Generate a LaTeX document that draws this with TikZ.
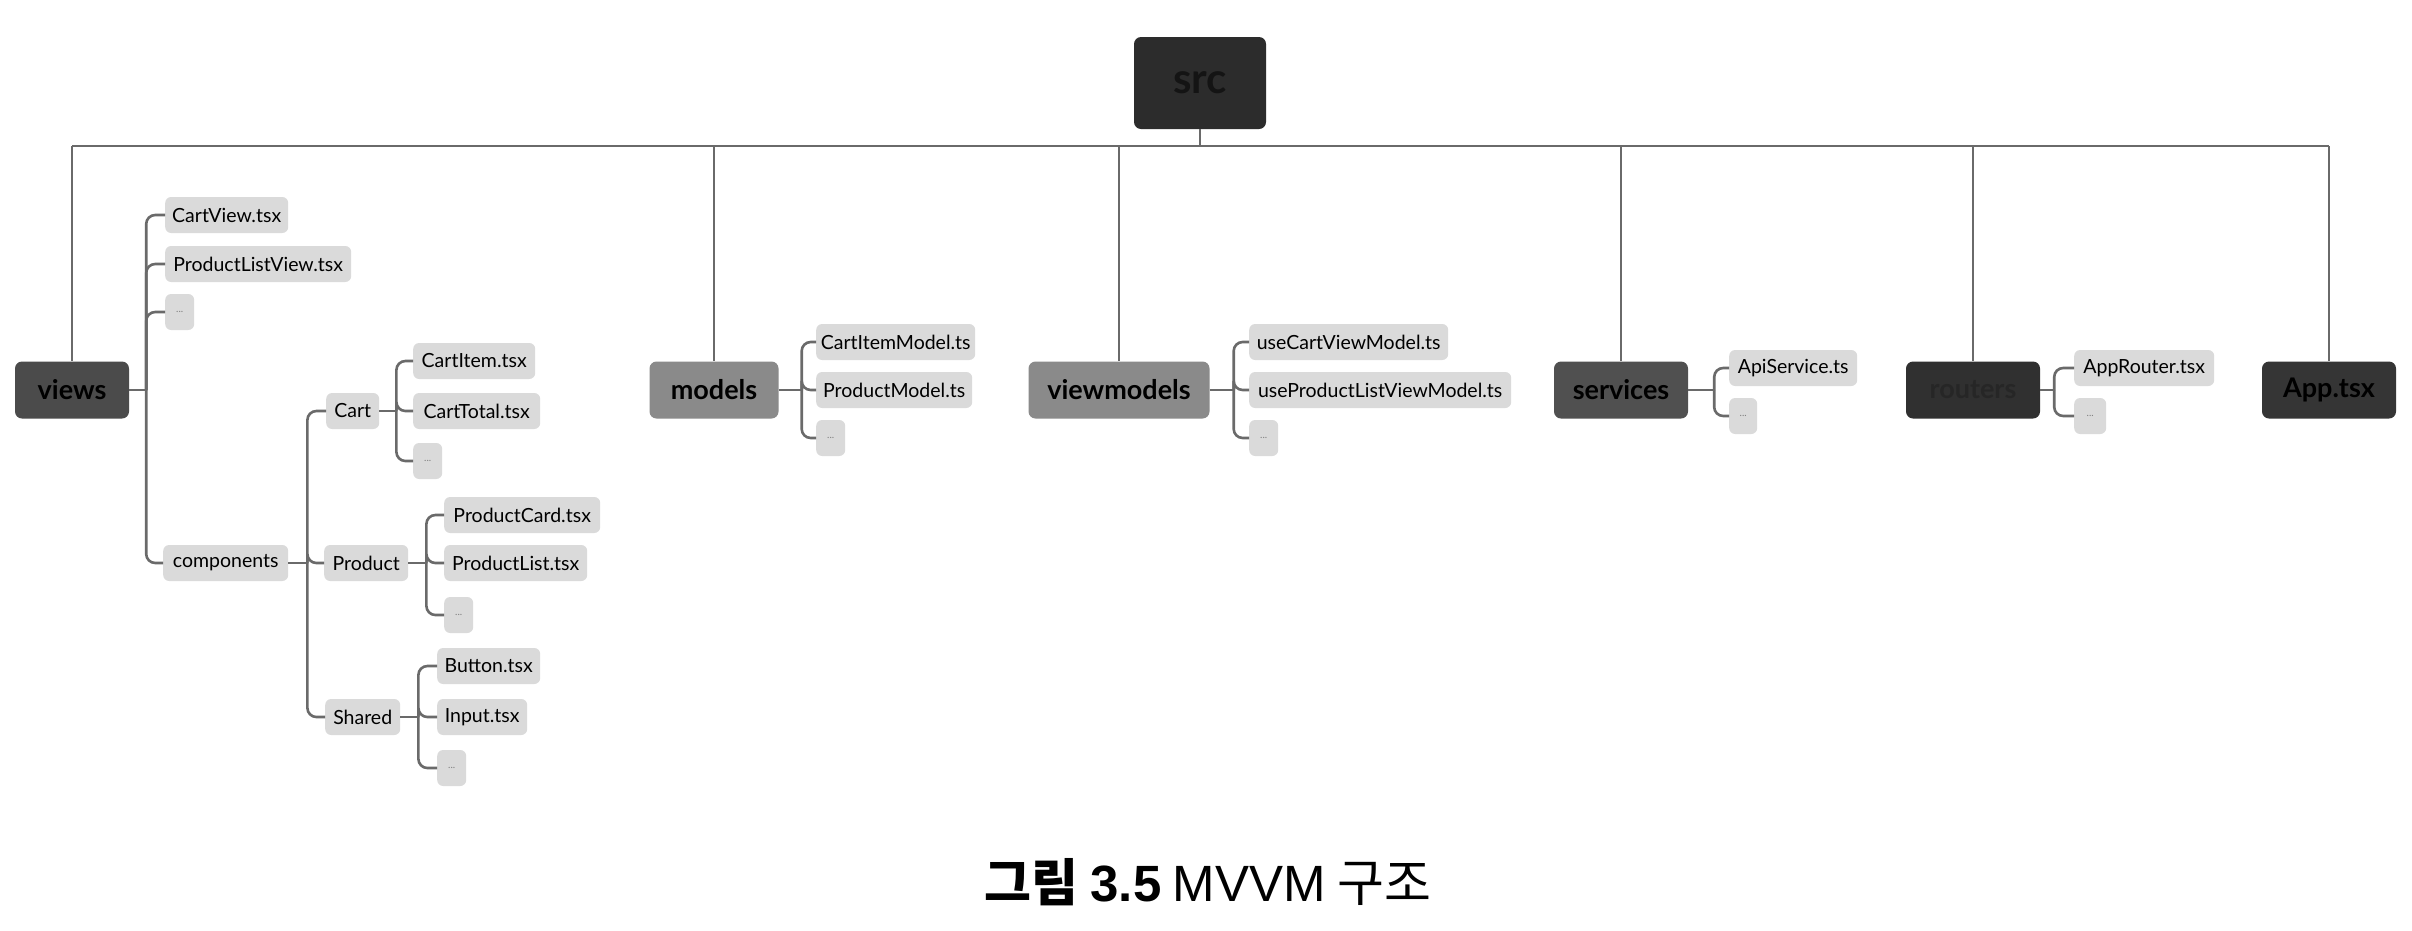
\documentclass[tikz,border=0pt]{standalone}
\usepackage{fontspec}
\setmainfont{Lato}
\newfontfamily\krfont{Noto Sans CJK KR}
\newfontfamily\latinfont{Liberation Sans}
\definecolor{linegray}{HTML}{6A6A6A}
\definecolor{leafgray}{HTML}{DADADA}
\definecolor{cSrc}{HTML}{2C2C2C}
\definecolor{cViews}{HTML}{4B4B4B}
\definecolor{cModels}{HTML}{8A8A8A}
\definecolor{cServ}{HTML}{505050}
\definecolor{cRout}{HTML}{303030}
\definecolor{cApp}{HTML}{353535}
\begin{document}
\begin{tikzpicture}[x=1pt,y=-1pt,
  topbox/.style={rounded corners=7pt, minimum height=57pt, inner sep=0pt,
    font=\fontsize{27}{30}\selectfont\bfseries, text=black},
  leaf/.style={fill=leafgray, rounded corners=6pt, minimum height=36pt, inner sep=0pt,
    anchor=west, font=\fontsize{19.5}{22}\selectfont, text=black},
  dotbox/.style={leaf, minimum width=29pt, font=\fontsize{10}{11}\selectfont, text=gray},
  conn/.style={draw=linegray, line width=2.6pt, rounded corners=9pt}
]
\useasboundingbox[fill=white] (0,0) rectangle (2412,930);

% root
\node[topbox, fill=cSrc, minimum width=132pt, minimum height=92pt,
  font=\fontsize{42}{46}\selectfont\bfseries, text=black!92] (src) at (1200,83) {src};

% top level
\node[topbox, fill=cViews, minimum width=114pt] (views) at (72,390) {views};
\node[topbox, fill=cModels, minimum width=129pt] (models) at (714,390) {models};
\node[topbox, fill=cModels, minimum width=181pt] (vms) at (1119,390) {viewmodels};
\node[topbox, fill=cServ, minimum width=134pt] (serv) at (1621,390) {services};
\node[topbox, fill=cRout, minimum width=134pt, text=black!85] (rout) at (1973,390) {routers};
\node[topbox, fill=cApp, minimum width=134pt] (app) at (2329,390) {App.tsx};

% bus
\coordinate (busL) at (72,146);
\coordinate (busR) at (2329,146);
\draw[draw=linegray, line width=2.6pt] (busL) -- (busR);
\draw[draw=linegray, line width=2.6pt] (src.south) -- (src.south |- busL);
\foreach \n in {views,models,vms,serv,rout,app}
  \draw[draw=linegray, line width=2.6pt] (\n.north |- busL) -- (\n.north);

% views children
\node[leaf, minimum width=123pt] (vCart) at (165,215) {CartView.tsx};
\node[leaf, minimum width=186pt] (vPLV) at (165,264) {ProductListView.tsx};
\node[dotbox] (vDots) at (165,312) {...};
\node[leaf, minimum width=125pt] (vComp) at (163,563) {components};
\draw[conn] (views.east) -- ++(17,0) coordinate (vj);
\foreach \c in {vCart,vPLV,vDots,vComp} \draw[conn] (vj) |- (\c.west);

% components children
\node[leaf, minimum width=53pt] (cCart) at (326,411) {Cart};
\node[leaf, minimum width=84pt] (cProd) at (324,563) {Product};
\node[leaf, minimum width=75pt] (cShared) at (325,717) {Shared};
\draw[conn] (vComp.east) -- ++(19,0) coordinate (cj);
\foreach \c in {cCart,cProd,cShared} \draw[conn] (cj) |- (\c.west);

% Cart children
\node[leaf, minimum width=122pt] (kItem) at (413,361) {CartItem.tsx};
\node[leaf, minimum width=127pt] (kTotal) at (413,411) {CartTotal.tsx};
\node[dotbox] (kDots) at (413,461) {...};
\draw[conn] (cCart.east) -- ++(17,0) coordinate (kj);
\foreach \c in {kItem,kTotal,kDots} \draw[conn] (kj) |- (\c.west);

% Product children
\node[leaf, minimum width=156pt] (pCard) at (444,515) {ProductCard.tsx};
\node[leaf, minimum width=143pt] (pList) at (444,563) {ProductList.tsx};
\node[dotbox] (pDots) at (444,615) {...};
\draw[conn] (cProd.east) -- ++(18,0) coordinate (pj);
\foreach \c in {pCard,pList,pDots} \draw[conn] (pj) |- (\c.west);

% Shared children
\node[leaf, minimum width=103pt] (sBtn) at (437,666) {Button.tsx};
\node[leaf, minimum width=90pt] (sIn) at (437,717) {Input.tsx};
\node[dotbox] (sDots) at (437,768) {...};
\draw[conn] (cShared.east) -- ++(18,0) coordinate (sj);
\foreach \c in {sBtn,sIn,sDots} \draw[conn] (sj) |- (\c.west);

% models children
\node[leaf, minimum width=159pt] (mItem) at (816,342) {CartItemModel.ts};
\node[leaf, minimum width=156pt] (mProd) at (816,390) {ProductModel.ts};
\node[dotbox] (mDots) at (816,438) {...};
\draw[conn] (models.east) -- ++(23,0) coordinate (mj);
\foreach \c in {mItem,mProd,mDots} \draw[conn] (mj) |- (\c.west);

% viewmodels children
\node[leaf, minimum width=199pt] (wCart) at (1249,342) {useCartViewModel.ts};
\node[leaf, minimum width=262pt] (wProd) at (1249,390) {useProductListViewModel.ts};
\node[dotbox] (wDots) at (1249,438) {...};
\draw[conn] (vms.east) -- ++(24,0) coordinate (wj);
\foreach \c in {wCart,wProd,wDots} \draw[conn] (wj) |- (\c.west);

% services children
\node[leaf, minimum width=128pt] (aApi) at (1729,368) {ApiService.ts};
\node[dotbox, minimum width=28pt] (aDots) at (1729,416) {...};
\draw[conn] (serv.east) -- ++(26,0) coordinate (aj);
\foreach \c in {aApi,aDots} \draw[conn] (aj) |- (\c.west);

% routers children
\node[leaf, minimum width=140pt] (rApp) at (2074,368) {AppRouter.tsx};
\node[dotbox, minimum width=32pt] (rDots) at (2074,416) {...};
\draw[conn] (rout.east) -- ++(14,0) coordinate (rj);
\foreach \c in {rApp,rDots} \draw[conn] (rj) |- (\c.west);

% caption
\node[font=\krfont\fontsize{51}{56}\selectfont, text=black] (cap) at (1208,882)
  {\textbf{그림 {\latinfont 3.5}} {\latinfont MVVM} 구조};
\end{tikzpicture}
\end{document}
